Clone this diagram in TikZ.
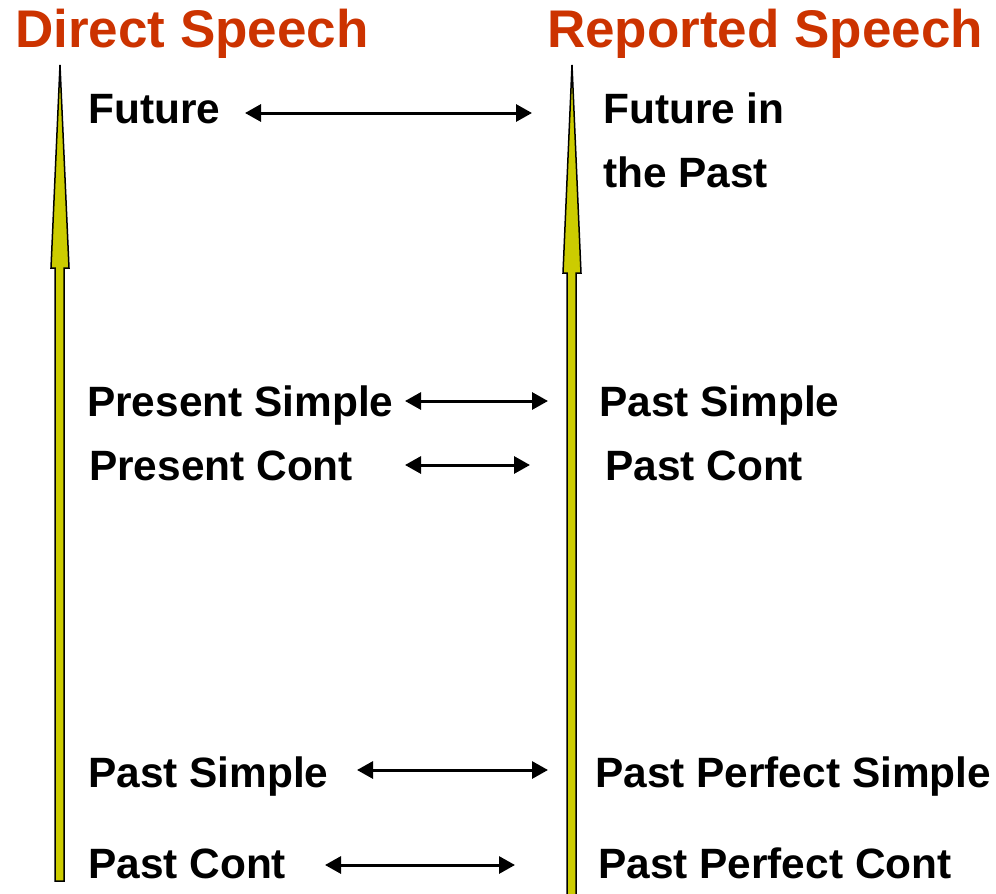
\documentclass[tikz,border=0pt]{standalone}
\usepackage{fontspec}
\setmainfont{Liberation Sans}
\usepackage{xcolor}
\usetikzlibrary{arrows.meta}
\definecolor{titlered}{RGB}{204,51,0}
\definecolor{timeyellow}{RGB}{204,204,0}

\begin{document}
\begin{tikzpicture}[x=1pt,y=-1pt,
    title/.style={anchor=base west, inner sep=0pt, text=titlered, font=\fontsize{53}{60}\selectfont\bfseries},
    tense/.style={anchor=base west, inner sep=0pt, font=\fontsize{42.4}{48}\selectfont\bfseries},
    biarrow/.style={line width=3pt, {Triangle[length=16pt,width=17pt]}-{Triangle[length=16pt,width=17pt]}},
    timeline/.style={fill=timeyellow, draw=black, line width=1.5pt, line join=miter}]
    \useasboundingbox (0,0) rectangle (996,894);

    % time lines
    \draw[timeline] (55,881) -- (55,268) -- (51,268) -- (60,65) -- (69,268) -- (64,268) -- (64,881) -- cycle;
    \draw[timeline] (567,900) -- (567,273) -- (563,273) -- (572,65) -- (581,273) -- (576,273) -- (576,900);

    % headings
    \node[title] (direct) at (15,47) {Direct Speech};
    \node[title] (reported) at (547,47) {Reported Speech};

    % direct speech tenses
    \node[tense] (future) at (88,123) {Future};
    \node[tense] (presS) at (87,416) {Present Simple};
    \node[tense] (presC) at (89,480) {Present Cont};
    \node[tense] (pastS) at (88,787) {Past Simple};
    \node[tense] (pastC) at (88,878) {Past Cont};

    % reported speech tenses
    \node[tense] (futpast) at (603,123) {Future in};
    \node[tense] (futpast2) at (603,187) {the Past};
    \node[tense] (rpastS) at (599,416) {Past Simple};
    \node[tense] (rpastC) at (605,480) {Past Cont};
    \node[tense] (perfS) at (595,787) {Past Perfect Simple};
    \node[tense] (perfC) at (598,878) {Past Perfect Cont};

    % arrow ends
    \coordinate (future-r) at (245,113);
    \coordinate (futpast-l) at (532,113);
    \coordinate (presS-r) at (405,401);
    \coordinate (rpastS-l) at (548,401);
    \coordinate (presC-r) at (405,465);
    \coordinate (rpastC-l) at (530,465);
    \coordinate (pastS-r) at (357,770);
    \coordinate (perfS-l) at (548,770);
    \coordinate (pastC-r) at (325,865);
    \coordinate (perfC-l) at (515,865);

    \draw[biarrow] (future-r) -- (futpast-l);
    \draw[biarrow] (presS-r) -- (rpastS-l);
    \draw[biarrow] (presC-r) -- (rpastC-l);
    \draw[biarrow] (pastS-r) -- (perfS-l);
    \draw[biarrow] (pastC-r) -- (perfC-l);
\end{tikzpicture}
\end{document}
